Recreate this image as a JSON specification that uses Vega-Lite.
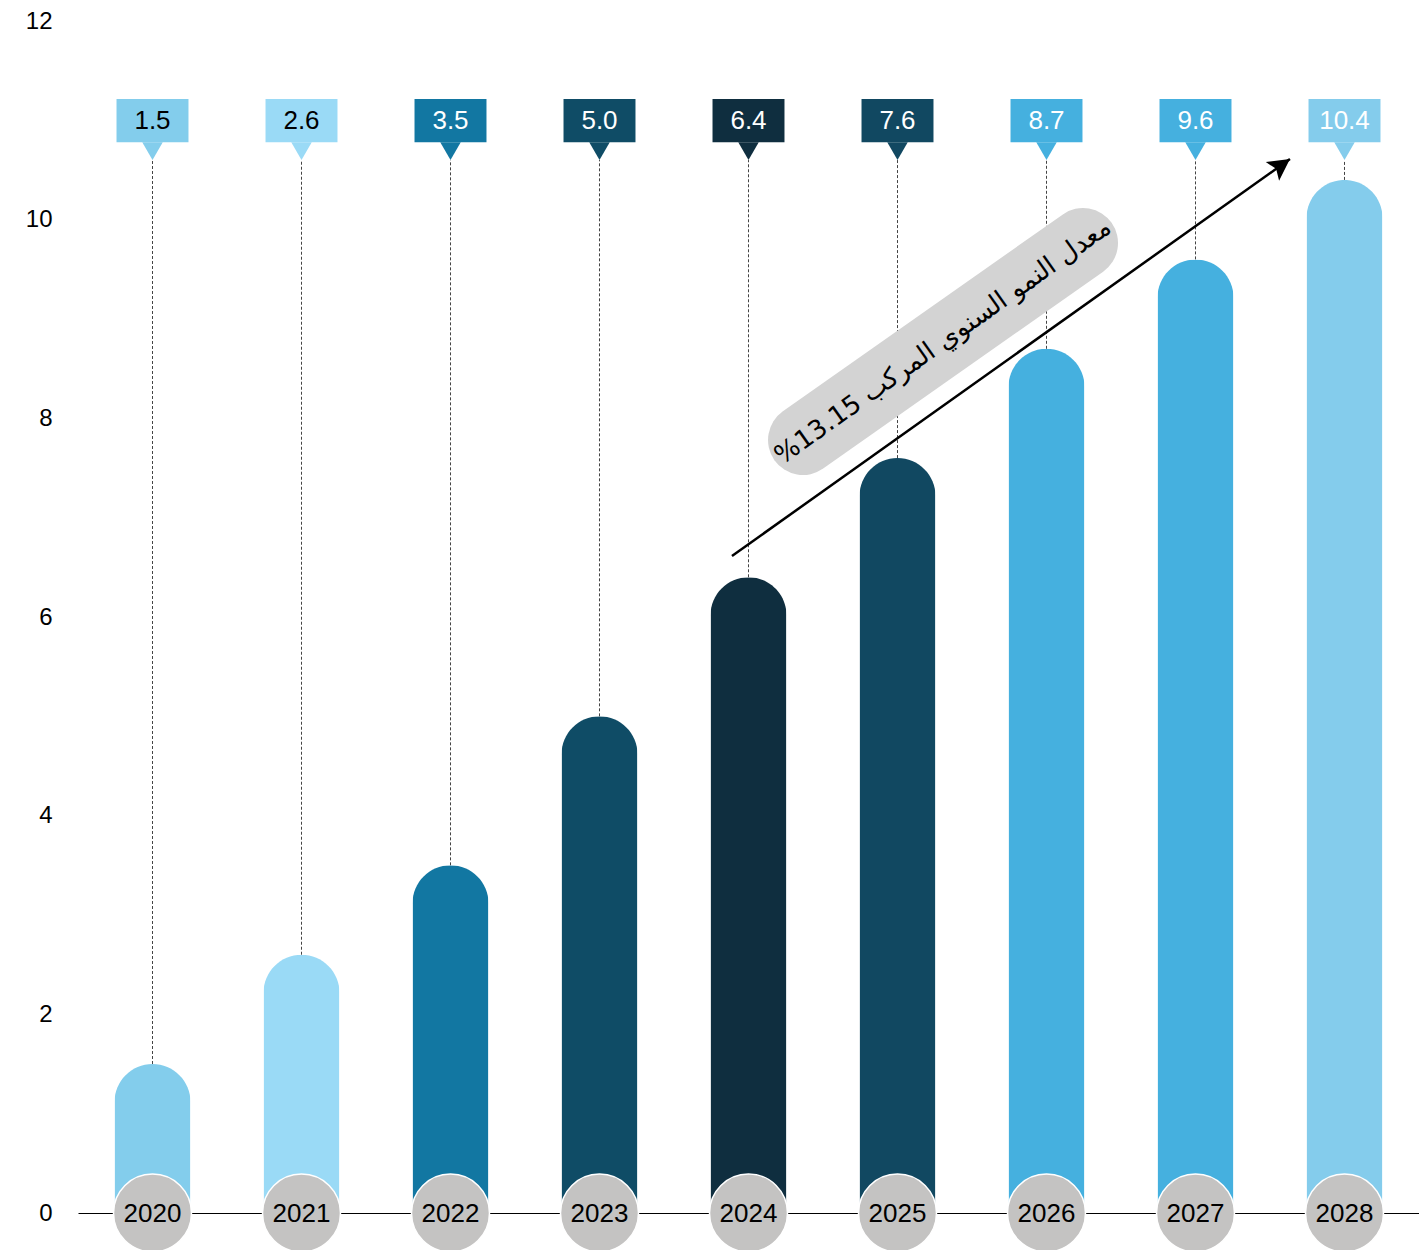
{
  "$schema": "https://vega.github.io/schema/vega-lite/v6.json",
  "width": 1341,
  "height": 1192,
  "autosize": {"type": "none"},
  "padding": {"left": 78, "top": 21, "right": 0, "bottom": 37},
  "background": "white",
  "config": {
    "view": {"stroke": null},
    "axis": {"title": null, "grid": false},
    "axisX": {"labels": false, "ticks": false, "domain": true, "domainColor": "black", "domainWidth": 1},
    "axisY": {"domain": false, "ticks": false, "labelFontSize": 24, "labelFont": "Liberation Sans", "labelColor": "black", "labelPadding": 26}
  },
  "datasets": {
    "bars": [
      {"year": "2020", "value": 1.5, "label": "1.5", "color": "#83cdec", "textColor": "black"},
      {"year": "2021", "value": 2.6, "label": "2.6", "color": "#9adaf6", "textColor": "black"},
      {"year": "2022", "value": 3.5, "label": "3.5", "color": "#1277a2", "textColor": "white"},
      {"year": "2023", "value": 5.0, "label": "5.0", "color": "#0f4c66", "textColor": "white"},
      {"year": "2024", "value": 6.4, "label": "6.4", "color": "#0f2e3f", "textColor": "white"},
      {"year": "2025", "value": 7.6, "label": "7.6", "color": "#114861", "textColor": "white"},
      {"year": "2026", "value": 8.7, "label": "8.7", "color": "#45b0df", "textColor": "white"},
      {"year": "2027", "value": 9.6, "label": "9.6", "color": "#45b0df", "textColor": "white"},
      {"year": "2028", "value": 10.4, "label": "10.4", "color": "#84ccec", "textColor": "white"}
    ],
    "arrow": [{"x": 4.389, "y": 6.614, "x2": 8.134, "y2": 10.611}],
    "pill": [{"x": 4.866, "y": 7.782, "x2": 6.745, "y2": 9.765, "cx": 5.805, "cy": 8.774, "label": "\u200fمعدل النمو السنوي المركب 13.15%\u200f"}]
  },
  "resolve": {"scale": {"x": "independent"}},
  "layer": [
    {
      "data": {"name": "bars"},
      "encoding": {
        "x": {"field": "year", "type": "nominal", "scale": {"paddingInner": 0, "paddingOuter": 0}}
      },
      "layer": [
        {
          "mark": {"type": "rule", "strokeDash": [3, 2], "color": "#444444", "strokeWidth": 1},
          "encoding": {
            "y": {"field": "value", "type": "quantitative", "scale": {"domain": [0, 12], "nice": false}, "axis": {"values": [0, 2, 4, 6, 8, 10, 12], "format": "d"}},
            "y2": {"datum": 10.6}
          }
        },
        {
          "mark": {"type": "bar", "width": {"band": 0.51}, "cornerRadiusTopLeft": 38, "cornerRadiusTopRight": 38},
          "encoding": {
            "y": {"field": "value", "type": "quantitative", "scale": {"domain": [0, 12], "nice": false}, "axis": {"values": [0, 2, 4, 6, 8, 10, 12], "format": "d"}},
            "color": {"field": "color", "type": "nominal", "scale": null}
          }
        },
        {
          "mark": {"type": "bar", "width": {"band": 0.483}},
          "encoding": {
            "y": {"datum": 11.215, "type": "quantitative"},
            "y2": {"datum": 10.78},
            "color": {"field": "color", "type": "nominal", "scale": null}
          }
        },
        {
          "mark": {"type": "point", "shape": "triangle-down", "filled": true, "size": 420, "opacity": 1},
          "encoding": {
            "y": {"datum": 10.69, "type": "quantitative"},
            "fill": {"field": "color", "type": "nominal", "scale": null}
          }
        },
        {
          "mark": {"type": "text", "fontSize": 26, "font": "Liberation Sans", "baseline": "middle", "align": "center", "dy": 1},
          "encoding": {
            "y": {"datum": 11.0, "type": "quantitative"},
            "text": {"field": "label"},
            "color": {"field": "textColor", "type": "nominal", "scale": null}
          }
        },
        {
          "mark": {"type": "point", "shape": "circle", "filled": true, "size": 6084, "fill": "#c4c3c2", "stroke": "white", "strokeWidth": 1.5, "opacity": 1},
          "encoding": {
            "y": {"datum": 0, "type": "quantitative"}
          }
        },
        {
          "mark": {"type": "text", "fontSize": 26, "font": "Liberation Sans", "baseline": "middle", "align": "center", "color": "black", "dy": 1},
          "encoding": {
            "y": {"datum": 0, "type": "quantitative"},
            "text": {"field": "year"}
          }
        }
      ]
    },
    {
      "layer": [
        {
          "data": {"name": "pill"},
          "mark": {"type": "rule", "strokeWidth": 70, "strokeCap": "round", "color": "#d3d3d3"},
          "encoding": {
            "x": {"field": "x", "type": "quantitative", "scale": {"domain": [0, 9], "nice": false, "zero": false}, "axis": null},
            "x2": {"field": "x2"},
            "y": {"field": "y", "type": "quantitative"},
            "y2": {"field": "y2"}
          }
        },
        {
          "data": {"name": "pill"},
          "mark": {"type": "text", "fontSize": 26, "font": "DejaVu Sans", "angle": -35.3, "align": "center", "baseline": "middle", "color": "black"},
          "encoding": {
            "x": {"field": "cx", "type": "quantitative", "scale": {"domain": [0, 9], "nice": false, "zero": false}, "axis": null},
            "y": {"field": "cy", "type": "quantitative"},
            "text": {"field": "label"}
          }
        },
        {
          "data": {"name": "arrow"},
          "mark": {"type": "rule", "strokeWidth": 2.5, "color": "black"},
          "encoding": {
            "x": {"field": "x", "type": "quantitative", "scale": {"domain": [0, 9], "nice": false, "zero": false}, "axis": null},
            "x2": {"field": "x2"},
            "y": {"field": "y", "type": "quantitative"},
            "y2": {"field": "y2"}
          }
        },
        {
          "data": {"name": "arrow"},
          "mark": {"type": "point", "shape": "M0,0L1.15,2.15L0,1.7L-1.15,2.15Z", "filled": true, "size": 400, "color": "black", "opacity": 1, "angle": 54.6},
          "encoding": {
            "x": {"field": "x2", "type": "quantitative", "scale": {"domain": [0, 9], "nice": false, "zero": false}, "axis": null},
            "y": {"field": "y2", "type": "quantitative"}
          }
        }
      ]
    }
  ]
}
